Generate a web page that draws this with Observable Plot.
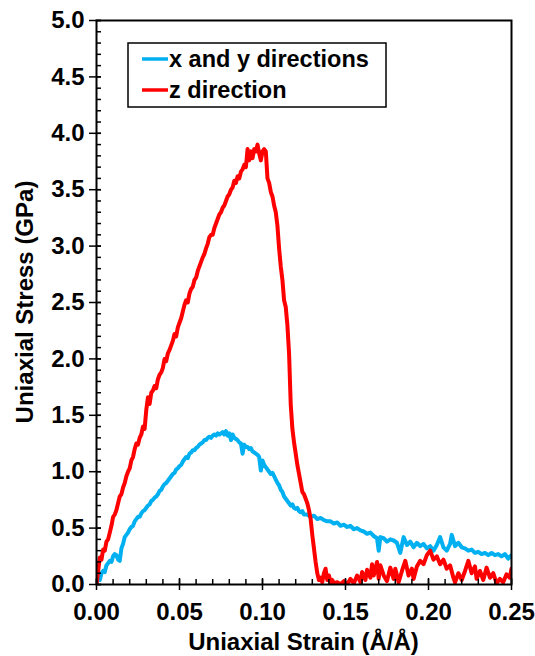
<!DOCTYPE html>
<html>
<head>
<meta charset="utf-8">
<script src="https://cdn.jsdelivr.net/npm/d3@7"></script>
<script src="https://cdn.jsdelivr.net/npm/@observablehq/plot@0.6"></script>
<style>
  body { margin: 0; background: #fff; }
  #chart svg { display: block; }
</style>
</head>
<body>
<div id="chart"></div>
<script>
// Uniaxial tensile response: [strain (Å/Å), stress (GPa)]
const xyCurve = [
  [0,0],[0.001,0.06],[0.002,0.04],[0.003,0.10],[0.004,0.12],[0.005,0.11],[0.006,0.17],[0.007,0.19],
  [0.008,0.21],[0.009,0.20],[0.010,0.25],[0.011,0.27],[0.012,0.26],[0.013,0.22],[0.014,0.21],[0.015,0.32],
  [0.016,0.36],[0.017,0.42],[0.018,0.44],[0.019,0.46],[0.020,0.49],[0.021,0.51],[0.022,0.52],[0.023,0.56],
  [0.024,0.58],[0.025,0.60],[0.026,0.60],[0.027,0.63],[0.028,0.65],[0.029,0.66],[0.030,0.68],[0.031,0.70],
  [0.032,0.71],[0.033,0.74],[0.034,0.75],[0.035,0.77],[0.036,0.78],[0.037,0.80],[0.038,0.83],[0.039,0.84],
  [0.040,0.87],[0.041,0.89],[0.042,0.90],[0.043,0.92],[0.044,0.94],[0.045,0.96],[0.046,0.98],[0.047,0.99],
  [0.048,1.02],[0.049,1.03],[0.050,1.05],[0.051,1.06],[0.052,1.09],[0.053,1.11],[0.054,1.13],[0.055,1.12],
  [0.056,1.16],[0.057,1.17],[0.058,1.19],[0.059,1.19],[0.060,1.21],[0.061,1.22],[0.062,1.24],[0.063,1.25],
  [0.064,1.26],[0.065,1.28],[0.066,1.28],[0.067,1.30],[0.068,1.31],[0.069,1.30],[0.070,1.32],[0.071,1.33],
  [0.072,1.32],[0.073,1.34],[0.074,1.33],[0.075,1.34],[0.076,1.35],[0.077,1.33],[0.078,1.36],[0.079,1.32],
  [0.080,1.34],[0.081,1.28],[0.082,1.33],[0.083,1.30],[0.084,1.29],[0.085,1.28],[0.086,1.26],[0.087,1.25],
  [0.088,1.16],[0.089,1.24],[0.090,1.22],[0.091,1.22],[0.092,1.20],[0.093,1.21],[0.094,1.18],[0.095,1.17],
  [0.096,1.16],[0.097,1.15],[0.098,1.13],[0.099,1.01],[0.100,1.10],[0.101,1.06],[0.102,1.04],[0.103,1.02],
  [0.104,1.00],[0.105,0.98],[0.106,0.99],[0.107,0.96],[0.108,0.93],[0.109,0.90],[0.110,0.88],[0.111,0.84],
  [0.112,0.82],[0.113,0.78],[0.114,0.76],[0.115,0.74],[0.116,0.72],[0.117,0.70],[0.118,0.71],[0.119,0.68],
  [0.120,0.67],[0.121,0.68],[0.122,0.65],[0.123,0.64],[0.124,0.65],[0.125,0.62],[0.127,0.62],[0.129,0.60],
  [0.131,0.61],[0.133,0.58],[0.135,0.59],[0.137,0.57],[0.139,0.56],[0.141,0.56],[0.143,0.54],[0.145,0.55],
  [0.147,0.52],[0.149,0.53],[0.151,0.51],[0.153,0.52],[0.155,0.49],[0.157,0.50],[0.159,0.48],[0.161,0.47],
  [0.163,0.45],[0.165,0.46],[0.167,0.43],[0.169,0.41],[0.170,0.30],[0.171,0.42],[0.173,0.41],[0.175,0.38],
  [0.177,0.40],[0.179,0.39],[0.181,0.37],[0.183,0.28],[0.185,0.42],[0.187,0.35],[0.189,0.38],[0.191,0.33],
  [0.193,0.37],[0.195,0.34],[0.197,0.36],[0.199,0.32],[0.201,0.34],[0.203,0.30],[0.205,0.35],[0.207,0.42],
  [0.209,0.33],[0.211,0.30],[0.213,0.36],[0.214,0.44],[0.216,0.34],[0.218,0.37],[0.220,0.33],[0.222,0.32],
  [0.224,0.30],[0.226,0.31],[0.228,0.28],[0.230,0.29],[0.232,0.27],[0.234,0.28],[0.236,0.26],[0.238,0.28],
  [0.240,0.26],[0.242,0.27],[0.244,0.25],[0.246,0.27],[0.248,0.23],[0.250,0.26]
];

const zCurve = [
  [0,0],[0.001,0.12],[0.002,0.24],[0.003,0.22],[0.004,0.31],[0.005,0.30],[0.006,0.38],[0.007,0.40],
  [0.008,0.46],[0.009,0.52],[0.010,0.60],[0.011,0.62],[0.012,0.66],[0.013,0.72],[0.014,0.78],[0.015,0.80],
  [0.016,0.86],[0.017,0.90],[0.018,0.96],[0.019,1.00],[0.020,1.03],[0.021,1.10],[0.022,1.13],[0.023,1.20],
  [0.024,1.25],[0.025,1.24],[0.026,1.30],[0.027,1.33],[0.028,1.40],[0.029,1.38],[0.030,1.55],[0.031,1.66],
  [0.032,1.60],[0.033,1.70],[0.034,1.72],[0.035,1.76],[0.036,1.74],[0.037,1.82],[0.038,1.86],[0.039,1.88],
  [0.040,1.92],[0.041,2.00],[0.042,1.98],[0.043,2.05],[0.044,2.08],[0.045,2.12],[0.046,2.16],[0.047,2.22],
  [0.048,2.20],[0.049,2.28],[0.050,2.32],[0.051,2.36],[0.052,2.42],[0.053,2.48],[0.054,2.52],[0.055,2.50],
  [0.056,2.58],[0.057,2.62],[0.058,2.64],[0.059,2.70],[0.060,2.72],[0.061,2.78],[0.062,2.82],[0.063,2.86],
  [0.064,2.90],[0.065,2.93],[0.066,2.98],[0.067,3.02],[0.068,3.08],[0.069,3.10],[0.070,3.10],[0.071,3.16],
  [0.072,3.20],[0.073,3.24],[0.074,3.28],[0.075,3.30],[0.076,3.34],[0.077,3.36],[0.078,3.40],[0.079,3.44],
  [0.080,3.46],[0.081,3.50],[0.082,3.52],[0.083,3.58],[0.084,3.56],[0.085,3.62],[0.086,3.60],[0.087,3.66],
  [0.088,3.68],[0.089,3.72],[0.090,3.70],[0.091,3.86],[0.092,3.76],[0.093,3.84],[0.094,3.78],[0.095,3.86],
  [0.096,3.84],[0.097,3.90],[0.098,3.82],[0.099,3.76],[0.100,3.84],[0.101,3.86],[0.102,3.84],[0.103,3.60],
  [0.104,3.56],[0.105,3.48],[0.106,3.44],[0.107,3.36],[0.108,3.30],[0.109,3.18],[0.110,2.98],[0.111,2.82],
  [0.112,2.70],[0.113,2.52],[0.114,2.46],[0.115,2.30],[0.116,2.05],[0.117,1.60],[0.118,1.38],[0.119,1.26],
  [0.120,1.16],[0.121,1.06],[0.122,0.98],[0.123,0.90],[0.124,0.82],[0.125,0.80],[0.126,0.76],[0.127,0.72],
  [0.128,0.66],[0.129,0.58],[0.130,0.44],[0.131,0.32],[0.132,0.20],[0.133,0.10],[0.134,0.04],[0.135,0.06],
  [0.136,0.02],[0.137,0.10],[0.138,0.14],[0.139,0.04],[0.140,0.08],[0.141,0.02],[0.142,0.04],[0.143,0.01],
  [0.145,0.02],[0.147,0.00],[0.149,0.03],[0.151,0.00],[0.153,0.05],[0.155,0.01],[0.157,0.08],[0.159,0.02],
  [0.160,0.11],[0.162,0.04],[0.163,0.13],[0.165,0.06],[0.166,0.18],[0.167,0.08],[0.169,0.20],[0.170,0.05],
  [0.171,0.17],[0.173,0.08],[0.175,0.03],[0.177,0.15],[0.179,0.05],[0.180,0.14],[0.182,0.02],[0.184,0.12],
  [0.186,0.21],[0.188,0.08],[0.190,0.14],[0.191,0.05],[0.193,0.16],[0.195,0.21],[0.197,0.18],[0.199,0.26],
  [0.201,0.30],[0.203,0.22],[0.205,0.25],[0.207,0.18],[0.209,0.22],[0.211,0.14],[0.213,0.17],[0.215,0.06],
  [0.216,0.02],[0.218,0.10],[0.220,0.04],[0.222,0.12],[0.224,0.21],[0.226,0.10],[0.228,0.16],[0.229,0.05],
  [0.231,0.12],[0.233,0.04],[0.235,0.15],[0.237,0.06],[0.239,0.10],[0.241,0.01],[0.243,0.05],[0.245,0.02],
  [0.247,0.09],[0.249,0.06],[0.250,0.14]
];

const seriesNames = ["x and y directions", "z direction"];
const seriesColors = ["#00B0F0", "#FF0000"];

const xMajor = [0, 0.05, 0.10, 0.15, 0.20, 0.25];
const xMinor = d3.range(0, 26).map(i => i / 100);
const yMajor = [0, 0.5, 1.0, 1.5, 2.0, 2.5, 3.0, 3.5, 4.0, 4.5, 5.0];
const yMinor = d3.range(0, 51).map(i => i / 10);

const xTitle = "Uniaxial Strain (Å/Å)";
const yTitle = "Uniaxial Stress (GPa)";

const FONT = "'Liberation Sans', Arial, sans-serif";
const TICK_FS = 24;
const TITLE_FS = 24;
const LEGEND_FS = 23.5;

const W = 535, H = 656;
const M = { left: 96, right: 24, top: 20, bottom: 72 };
const plotW = W - M.left - M.right;
const plotH = H - M.top - M.bottom;

// tick stubs: inward length, outward length
const IN = 5, OUT = 7;
const tickStyle = { stroke: "#000", strokeWidth: 1.5 };

const chart = Plot.plot({
  width: W,
  height: H,
  marginLeft: M.left,
  marginRight: M.right,
  marginTop: M.top,
  marginBottom: M.bottom,
  style: { fontFamily: FONT, fontSize: TICK_FS + "px", fontWeight: "bold", color: "#000", background: "#fff" },
  x: { domain: [0, 0.25] },
  y: { domain: [0, 5] },
  marks: [
    Plot.line(xyCurve, { x: d => d[0], y: d => d[1], stroke: seriesColors[0], strokeWidth: 4, clip: true }),
    Plot.line(zCurve, { x: d => d[0], y: d => d[1], stroke: seriesColors[1], strokeWidth: 4, clip: true }),
    Plot.frame({ stroke: "#000", strokeWidth: 2 }),
    // y ticks: minor point inward, major cross the axis
    Plot.tickY(yMinor, { y: d => d, insetLeft: 0, insetRight: plotW - IN, ...tickStyle }),
    Plot.tickY(yMajor, { y: d => d, insetLeft: -OUT, insetRight: plotW - IN, ...tickStyle }),
    // x ticks
    Plot.tickX(xMinor, { x: d => d, insetBottom: 0, insetTop: plotH - IN, ...tickStyle }),
    Plot.tickX(xMajor, { x: d => d, insetBottom: -OUT + 1, insetTop: plotH - IN - 1, ...tickStyle }),
    Plot.axisY(yMajor, { tickSize: 0, tickPadding: 12, tickFormat: d => d.toFixed(1), label: null, fontSize: TICK_FS, fontWeight: "bold" }),
    Plot.axisX(xMajor, { tickSize: 0, tickPadding: 18, tickFormat: d => d.toFixed(2), label: null, fontSize: TICK_FS, fontWeight: "bold" })
  ]
});

document.getElementById("chart").appendChild(chart);

const svg = d3.select(chart);

// axis titles
svg.append("text")
  .attr("transform", `translate(33,${M.top + plotH / 2}) rotate(-90)`)
  .attr("text-anchor", "middle")
  .style("font", `bold ${TITLE_FS}px ${FONT}`)
  .attr("fill", "#000")
  .text(yTitle);

svg.append("text")
  .attr("x", M.left + plotW / 2).attr("y", 650)
  .attr("text-anchor", "middle")
  .style("font", `bold ${TITLE_FS}px ${FONT}`)
  .attr("fill", "#000")
  .text(xTitle);

// legend box
const lg = svg.append("g");
lg.append("rect")
  .attr("x", 128).attr("y", 43).attr("width", 258).attr("height", 64)
  .attr("fill", "#fff").attr("stroke", "#000").attr("stroke-width", 1.5);
seriesNames.forEach((name, i) => {
  const cy = 59 + i * 31;
  lg.append("line")
    .attr("x1", 142).attr("x2", 168).attr("y1", cy).attr("y2", cy)
    .attr("stroke", seriesColors[i]).attr("stroke-width", 3.5);
  lg.append("text")
    .attr("x", 169).attr("y", cy + 8)
    .attr("text-anchor", "start")
    .style("font", `bold ${LEGEND_FS}px ${FONT}`)
    .attr("fill", "#000")
    .text(name);
});
</script>
</body>
</html>
